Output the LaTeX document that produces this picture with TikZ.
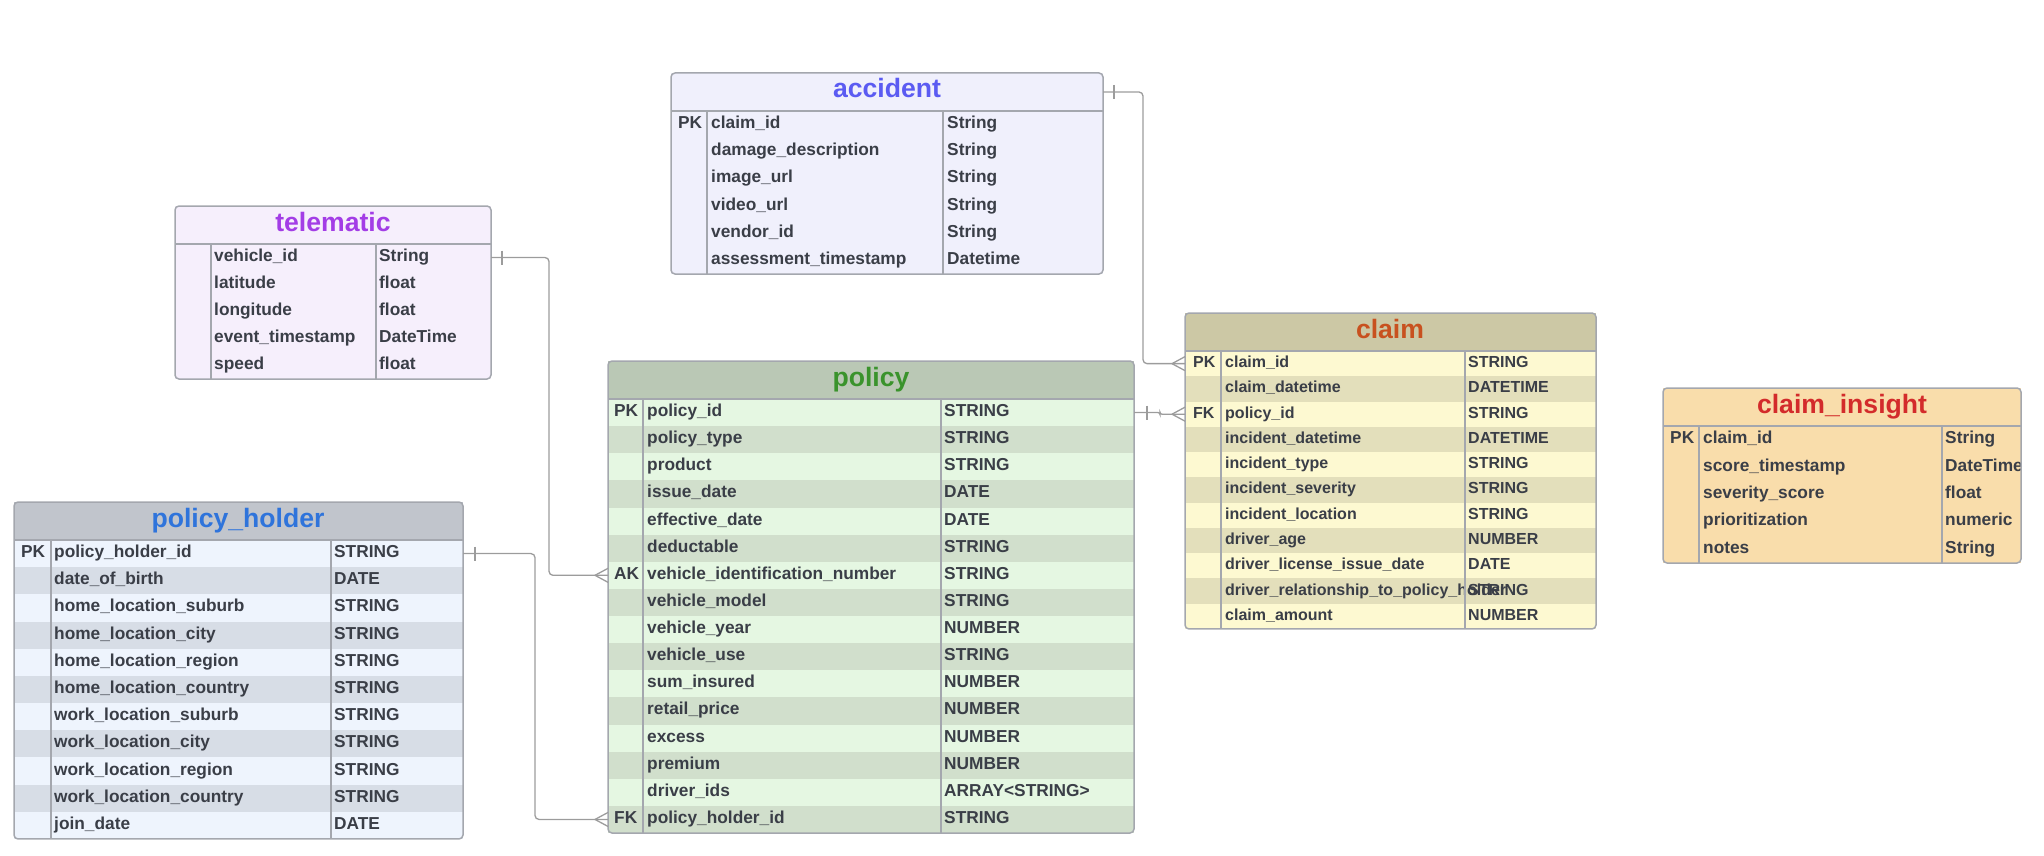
\documentclass[tikz,border=0pt]{standalone}
\usepackage{fontspec}
\setmainfont{Liberation Sans}
\definecolor{ink}{HTML}{3A3E47}
\definecolor{edge}{HTML}{A4A7AE}
\definecolor{wire}{HTML}{9C9C9C}
\definecolor{accfill}{HTML}{F0F0FC}
\definecolor{acctxt}{HTML}{5B5BF2}
\definecolor{telfill}{HTML}{F6EFFC}
\definecolor{teltxt}{HTML}{A33DE6}
\definecolor{phhead}{HTML}{C1C5CC}
\definecolor{phtxt}{HTML}{2F74DB}
\definecolor{phlight}{HTML}{EEF4FD}
\definecolor{phdark}{HTML}{D7DDE6}
\definecolor{polhead}{HTML}{BAC8B5}
\definecolor{poltxt}{HTML}{3A932C}
\definecolor{pollight}{HTML}{E5F7E2}
\definecolor{poldark}{HTML}{D1DFCC}
\definecolor{clmhead}{HTML}{CCC8A5}
\definecolor{clmtxt}{HTML}{C8511F}
\definecolor{clmlight}{HTML}{FDF9D1}
\definecolor{clmdark}{HTML}{E3DFBB}
\definecolor{insfill}{HTML}{F9DDAB}
\definecolor{instxt}{HTML}{D32B2B}
\tikzset{
  hdr/.style={rectangle, inner sep=0, outer sep=0, anchor=north west, minimum height=38},
  rowbox/.style={rectangle, inner sep=0, outer sep=0, anchor=west},
  ttl/.style={anchor=base, inner sep=0, font=\bfseries\fontsize{26.6}{30}\selectfont},
  fld/.style={anchor=base west, inner sep=0, text=ink, font=\bfseries\fontsize{17.3}{20}\selectfont},
  fldsm/.style={fld, font=\bfseries\fontsize{16}{19}\selectfont},
  rule/.style={draw=edge, line width=1.2},
  frame/.style={draw=edge, line width=1.5, rounded corners=4},
  link/.style={draw=wire, line width=1.3}
}
\begin{document}
\begin{tikzpicture}[x=1pt,y=-1pt]
\useasboundingbox (0,0) rectangle (2044,856);

% accident
\node[hdr, fill=accfill, minimum width=432] (acc) at (671,73) {};
\node[ttl, text=acctxt] (acc-ttl) at (887,98) {accident};
\foreach \ky/\nm/\ty [count=\i] in {PK/claim\_id/String, {}/damage\_description/String, {}/image\_url/String, {}/video\_url/String, {}/vendor\_id/String, {}/assessment\_timestamp/Datetime} {
  \node[rowbox, fill=accfill, minimum width=432, minimum height=27.17] (acc-r\i) at (671,{111+(\i-0.5)*27.17}) {};
  \node[fld] (acc-k\i) at (678,{115+(\i-0.5)*27.17}) {\ky};
  \node[fld] (acc-n\i) at (711,{115+(\i-0.5)*27.17}) {\nm};
  \node[fld] (acc-t\i) at (947,{115+(\i-0.5)*27.17}) {\ty};
}
\draw[rule] (acc.south west) -- (acc.south east);
\draw[rule] (707,111) -- (707,274) (943,111) -- (943,274);
\draw[frame] (acc.north west) rectangle (acc-r6.south east);

% telematic
\node[hdr, fill=telfill, minimum width=316] (tel) at (175,206) {};
\node[ttl, text=teltxt] (tel-ttl) at (333,231) {telematic};
\foreach \nm/\ty [count=\i] in {vehicle\_id/String, latitude/float, longitude/float, event\_timestamp/DateTime, speed/float} {
  \node[rowbox, fill=telfill, minimum width=316, minimum height=27] (tel-r\i) at (175,{244+(\i-0.5)*27}) {};
  \node[fld] (tel-n\i) at (214,{248+(\i-0.5)*27}) {\nm};
  \node[fld] (tel-t\i) at (379,{248+(\i-0.5)*27}) {\ty};
}
\draw[rule] (tel.south west) -- (tel.south east);
\draw[rule] (211,244) -- (211,379) (376,244) -- (376,379);
\draw[frame] (tel.north west) rectangle (tel-r5.south east);

% policy_holder
\node[hdr, fill=phhead, minimum width=449] (ph) at (14,502) {};
\node[ttl, text=phtxt] (ph-ttl) at (238,527) {policy\_holder};
\foreach \ky/\nm/\ty [count=\i] in {PK/policy\_holder\_id/STRING, {}/date\_of\_birth/DATE, {}/home\_location\_suburb/STRING, {}/home\_location\_city/STRING, {}/home\_location\_region/STRING, {}/home\_location\_country/STRING, {}/work\_location\_suburb/STRING, {}/work\_location\_city/STRING, {}/work\_location\_region/STRING, {}/work\_location\_country/STRING, {}/join\_date/DATE} {
  \ifodd\i \def\rowfill{phlight}\else \def\rowfill{phdark}\fi
  \node[rowbox, fill=\rowfill, minimum width=449, minimum height=27.18] (ph-r\i) at (14,{540+(\i-0.5)*27.18}) {};
  \node[fld] (ph-k\i) at (21,{544+(\i-0.5)*27.18}) {\ky};
  \node[fld] (ph-n\i) at (54,{544+(\i-0.5)*27.18}) {\nm};
  \node[fld] (ph-t\i) at (334,{544+(\i-0.5)*27.18}) {\ty};
}
\draw[rule] (ph.south west) -- (ph.south east);
\draw[rule] (51,540) -- (51,839) (331,540) -- (331,839);
\draw[frame] (ph.north west) rectangle (ph-r11.south east);

% policy
\node[hdr, fill=polhead, minimum width=526] (pol) at (608,361) {};
\node[ttl, text=poltxt] (pol-ttl) at (871,386) {policy};
\foreach \ky/\nm/\ty [count=\i] in {PK/policy\_id/STRING, {}/policy\_type/STRING, {}/product/STRING, {}/issue\_date/DATE, {}/effective\_date/DATE, {}/deductable/STRING, AK/vehicle\_identification\_number/STRING, {}/vehicle\_model/STRING, {}/vehicle\_year/NUMBER, {}/vehicle\_use/STRING, {}/sum\_insured/NUMBER, {}/retail\_price/NUMBER, {}/excess/NUMBER, {}/premium/NUMBER, {}/driver\_ids/ARRAY<STRING>, FK/policy\_holder\_id/STRING} {
  \ifodd\i \def\rowfill{pollight}\else \def\rowfill{poldark}\fi
  \node[rowbox, fill=\rowfill, minimum width=526, minimum height=27.125] (pol-r\i) at (608,{399+(\i-0.5)*27.125}) {};
  \node[fld] (pol-k\i) at (614,{403+(\i-0.5)*27.125}) {\ky};
  \node[fld] (pol-n\i) at (647,{403+(\i-0.5)*27.125}) {\nm};
  \node[fld] (pol-t\i) at (944,{403+(\i-0.5)*27.125}) {\ty};
}
\draw[rule] (pol.south west) -- (pol.south east);
\draw[rule] (643,399) -- (643,833) (941,399) -- (941,833);
\draw[frame] (pol.north west) rectangle (pol-r16.south east);

% claim
\node[hdr, fill=clmhead, minimum width=411] (clm) at (1185,313) {};
\node[ttl, text=clmtxt] (clm-ttl) at (1390,338) {claim};
\foreach \ky/\nm/\ty [count=\i] in {PK/claim\_id/STRING, {}/claim\_datetime/DATETIME, FK/policy\_id/STRING, {}/incident\_datetime/DATETIME, {}/incident\_type/STRING, {}/incident\_severity/STRING, {}/incident\_location/STRING, {}/driver\_age/NUMBER, {}/driver\_license\_issue\_date/DATE, {}/driver\_relationship\_to\_policy\_holder/STRING, {}/claim\_amount/NUMBER} {
  \ifodd\i \def\rowfill{clmlight}\else \def\rowfill{clmdark}\fi
  \node[rowbox, fill=\rowfill, minimum width=411, minimum height=25.27] (clm-r\i) at (1185,{351+(\i-0.5)*25.27}) {};
  \node[fldsm] (clm-k\i) at (1193,{355+(\i-0.5)*25.27}) {\ky};
  \node[fldsm] (clm-n\i) at (1225,{355+(\i-0.5)*25.27}) {\nm};
  \node[fldsm] (clm-t\i) at (1468,{355+(\i-0.5)*25.27}) {\ty};
}
\draw[rule] (clm.south west) -- (clm.south east);
\draw[rule] (1221,351) -- (1221,629) (1465,351) -- (1465,629);
\draw[frame] (clm.north west) rectangle (clm-r11.south east);

% claim_insight
\node[hdr, fill=insfill, minimum width=358] (ins) at (1663,388) {};
\node[ttl, text=instxt] (ins-ttl) at (1842,413) {claim\_insight};
\foreach \ky/\nm/\ty [count=\i] in {PK/claim\_id/String, {}/score\_timestamp/DateTime, {}/severity\_score/float, {}/prioritization/numeric, {}/notes/String} {
  \node[rowbox, fill=insfill, minimum width=358, minimum height=27.4] (ins-r\i) at (1663,{426+(\i-0.5)*27.4}) {};
  \node[fld] (ins-k\i) at (1670,{430+(\i-0.5)*27.4}) {\ky};
  \node[fld] (ins-n\i) at (1703,{430+(\i-0.5)*27.4}) {\nm};
  \node[fld] (ins-t\i) at (1945,{430+(\i-0.5)*27.4}) {\ty};
}
\draw[rule] (ins.south west) -- (ins.south east);
\draw[rule] (1699,426) -- (1699,563) (1942,426) -- (1942,563);
\draw[frame] (ins.north west) rectangle (ins-r5.south east);

% links
\draw[link, rounded corners=4] (acc.east) -- ++(40,0) |- (clm-r1.west);
\draw[link] ([xshift=11pt,yshift=7pt]acc.east) -- ([xshift=11pt,yshift=-7pt]acc.east);
\draw[link] ([xshift=-13pt]clm-r1.west) -- ([yshift=7pt]clm-r1.west) ([xshift=-13pt]clm-r1.west) -- ([yshift=-7pt]clm-r1.west);

\draw[link, rounded corners=2] (pol-r1.east) -- ++(26,0) |- (clm-r3.west);
\draw[link] ([xshift=13pt,yshift=7pt]pol-r1.east) -- ([xshift=13pt,yshift=-7pt]pol-r1.east);
\draw[link] ([xshift=-13pt]clm-r3.west) -- ([yshift=7pt]clm-r3.west) ([xshift=-13pt]clm-r3.west) -- ([yshift=-7pt]clm-r3.west);

\draw[link, rounded corners=4] (tel-r1.east) -- ++(58,0) |- (pol-r7.west);
\draw[link] ([xshift=11pt,yshift=7pt]tel-r1.east) -- ([xshift=11pt,yshift=-7pt]tel-r1.east);
\draw[link] ([xshift=-13pt]pol-r7.west) -- ([yshift=7pt]pol-r7.west) ([xshift=-13pt]pol-r7.west) -- ([yshift=-7pt]pol-r7.west);

\draw[link, rounded corners=4] (ph-r1.east) -- ++(72,0) |- (pol-r16.west);
\draw[link] ([xshift=12pt,yshift=7pt]ph-r1.east) -- ([xshift=12pt,yshift=-7pt]ph-r1.east);
\draw[link] ([xshift=-13pt]pol-r16.west) -- ([yshift=7pt]pol-r16.west) ([xshift=-13pt]pol-r16.west) -- ([yshift=-7pt]pol-r16.west);
\end{tikzpicture}
\end{document}
